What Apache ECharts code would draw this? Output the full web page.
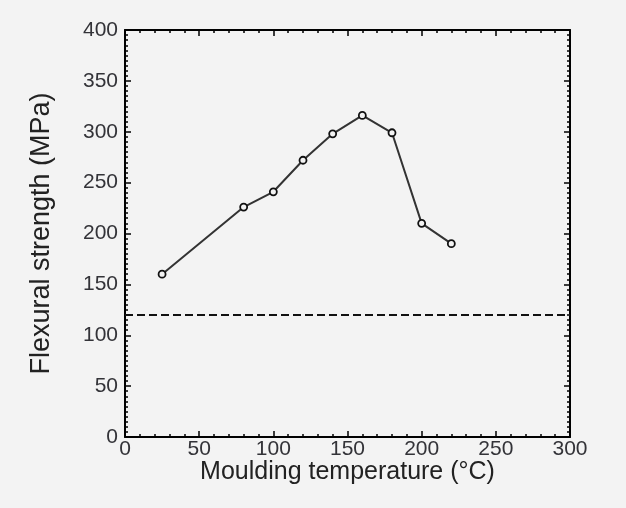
<!DOCTYPE html>
<html>
<head>
<meta charset="utf-8">
<script src="https://cdn.jsdelivr.net/npm/echarts@6/dist/echarts.min.js"></script>
<style>
  html, body { margin: 0; padding: 0; background: #f3f3f3; }
  #root { width: 626px; height: 508px; }
</style>
</head>
<body>
<div id="root"></div>
<script>
// moulding temperature (°C) and flexural strength (MPa)
const temperature = [25, 80, 100, 120, 140, 160, 180, 200, 220];
const strength = [160, 226, 241, 272, 298, 316, 299, 210, 190];
const referenceLevel = 120;

const xTicks = { min: 0, max: 300, interval: 50 };
const yTicks = { min: 0, max: 400, interval: 50 };

const chart = echarts.init(document.getElementById('root'));

const font = 'Liberation Sans, Arial, sans-serif';
const labelStyle = { color: '#333338', fontSize: 21, fontFamily: font };
const frameLine = { show: true, onZero: false, lineStyle: { color: '#000', width: 2 } };
const tick = { show: true, inside: true, length: 6, lineStyle: { color: '#000', width: 1.5 } };

function minor(n) {
  return { show: true, splitNumber: n, length: 3, lineStyle: { color: '#000', width: 1.5 } };
}

const option = {
  backgroundColor: '#f3f3f3',
  animation: false,
  grid: { left: 125, right: 56, top: 30, bottom: 71 },
  xAxis: [{
    type: 'value',
    position: 'bottom',
    min: xTicks.min, max: xTicks.max, interval: xTicks.interval,
    name: 'Moulding temperature (°C)',
    nameLocation: 'middle',
    nameGap: 23,
    nameMoveOverlap: false,
    nameTextStyle: { color: '#222', fontSize: 25, fontFamily: font },
    axisLine: frameLine,
    axisTick: tick,
    minorTick: minor(5),
    splitLine: { show: false },
    axisLabel: Object.assign({ margin: 2 }, labelStyle)
  }, {
    type: 'value',
    position: 'top',
    min: xTicks.min, max: xTicks.max, interval: xTicks.interval,
    axisLine: frameLine,
    axisTick: tick,
    minorTick: minor(5),
    splitLine: { show: false },
    axisLabel: { show: false }
  }],
  yAxis: [{
    type: 'value',
    position: 'left',
    min: yTicks.min, max: yTicks.max, interval: yTicks.interval,
    name: 'Flexural strength (MPa)',
    nameLocation: 'middle',
    nameGap: 70,
    nameTextStyle: { color: '#222', fontSize: 27, fontFamily: font },
    axisLine: frameLine,
    axisTick: tick,
    minorTick: minor(10),
    splitLine: { show: false },
    axisLabel: Object.assign({ margin: 7 }, labelStyle)
  }, {
    type: 'value',
    position: 'right',
    min: yTicks.min, max: yTicks.max, interval: yTicks.interval,
    axisLine: frameLine,
    axisTick: tick,
    minorTick: minor(10),
    splitLine: { show: false },
    axisLabel: { show: false }
  }],
  series: [{
    type: 'line',
    data: temperature.map((t, i) => [t, strength[i]]),
    symbol: 'circle',
    symbolSize: 7,
    lineStyle: { color: '#333', width: 2 },
    itemStyle: { color: '#f3f3f3', borderColor: '#111', borderWidth: 1.8 },
    markLine: {
      silent: true,
      symbol: 'none',
      label: { show: false },
      lineStyle: { color: '#111', type: [8, 4], width: 1.8 },
      data: [{ yAxis: referenceLevel }]
    }
  }]
};

chart.setOption(option);
</script>
</body>
</html>
